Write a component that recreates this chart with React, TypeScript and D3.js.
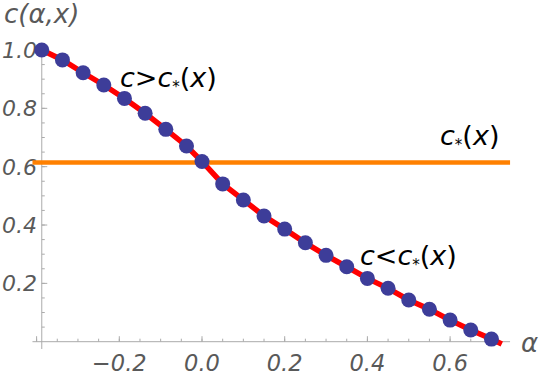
import React, { useEffect, useRef } from 'react'
import * as d3 from 'd3'

// data
const alphas = [-0.3875, -0.3375, -0.2875, -0.2375, -0.1875, -0.1375, -0.0875, -0.0375,
  0, 0.05, 0.1, 0.15, 0.2, 0.25, 0.3, 0.35, 0.4, 0.45, 0.5, 0.55, 0.6, 0.65, 0.7]
const cValues = [1.0, 0.966, 0.922, 0.88, 0.834, 0.783, 0.728, 0.671, 0.618, 0.541, 0.486,
  0.431, 0.386, 0.339, 0.296, 0.257, 0.217, 0.183, 0.143, 0.111, 0.074, 0.04, 0.009]
const curveEnd = [0.725, -0.008]
const cStar = 0.614
const cStarRange = [-0.41, 0.745]

const xMajorTicks = [-0.4, -0.2, 0, 0.2, 0.4, 0.6]
const xTickLabels = ['', '\u22120.2', '0.0', '0.2', '0.4', '0.6']
const yMajorTicks = [0.2, 0.4, 0.6, 0.8, 1.0]
const yTickLabels = ['0.2', '0.4', '0.6', '0.8', '1.0']

export default function App() {
  const ref = useRef<SVGSVGElement | null>(null)

  useEffect(() => {
    const width = 545, height = 382
    const svg = d3.select(ref.current).attr('width', width).attr('height', height)
    svg.selectAll('*').remove()

    const x = d3.scaleLinear().domain([-0.4, 0.7]).range([36.6, 491.45])
    const y = d3.scaleLinear().domain([0, 1]).range([341.7, 50])

    const axisColor = '#ababab'
    const labelColor = '#595959'
    const font = '"DejaVu Sans", sans-serif'
    const x0 = x(alphas[0])
    const y0 = y(0)

    // axes
    svg.append('line')
      .attr('x1', x(cStarRange[0])).attr('x2', x(cStarRange[1]))
      .attr('y1', y0).attr('y2', y0)
      .attr('stroke', axisColor).attr('stroke-width', 1)
    svg.append('line')
      .attr('x1', x0).attr('x2', x0)
      .attr('y1', y(-0.025)).attr('y2', y(1.01))
      .attr('stroke', axisColor).attr('stroke-width', 1)

    // x ticks
    const xMinor = d3.range(-0.4, 0.7001, 0.05)
    svg.append('g').selectAll('line').data(xMinor).join('line')
      .attr('x1', d => x(d)).attr('x2', d => x(d))
      .attr('y1', y0).attr('y2', y0 - 3)
      .attr('stroke', axisColor)
    svg.append('g').selectAll('line').data(xMajorTicks).join('line')
      .attr('x1', d => x(d)).attr('x2', d => x(d))
      .attr('y1', y0).attr('y2', y0 - 5.5)
      .attr('stroke', axisColor)
    svg.append('g').selectAll('text').data(xMajorTicks).join('text')
      .attr('x', d => x(d)).attr('y', 371)
      .attr('text-anchor', 'middle')
      .attr('font-family', font).attr('font-style', 'italic').attr('font-size', 22.5)
      .attr('fill', labelColor)
      .text((d, i) => xTickLabels[i])

    // y ticks
    const yMinor = d3.range(0.05, 1.0001, 0.05)
    svg.append('g').selectAll('line').data(yMinor).join('line')
      .attr('x1', x0).attr('x2', x0 + 3)
      .attr('y1', d => y(d)).attr('y2', d => y(d))
      .attr('stroke', axisColor)
    svg.append('g').selectAll('line').data(yMajorTicks).join('line')
      .attr('x1', x0).attr('x2', x0 + 5.5)
      .attr('y1', d => y(d)).attr('y2', d => y(d))
      .attr('stroke', axisColor)
    svg.append('g').selectAll('text').data(yMajorTicks).join('text')
      .attr('x', 37).attr('y', d => y(d) + 8)
      .attr('text-anchor', 'end')
      .attr('font-family', font).attr('font-style', 'italic').attr('font-size', 22)
      .attr('fill', labelColor)
      .text((d, i) => yTickLabels[i])

    // axis labels
    svg.append('text').attr('x', 4).attr('y', 23)
      .attr('font-family', font).attr('font-size', 26).attr('fill', labelColor)
      .attr('font-style', 'italic')
      .text('c(\u03b1,x)')
    svg.append('text').attr('x', 521).attr('y', 352)
      .attr('font-family', font).attr('font-size', 26).attr('fill', labelColor)
      .attr('font-style', 'italic')
      .text('\u03b1')

    // threshold line
    svg.append('line')
      .attr('x1', x(cStarRange[0])).attr('x2', x(cStarRange[1]))
      .attr('y1', y(cStar)).attr('y2', y(cStar))
      .attr('stroke', '#ff8000').attr('stroke-width', 4.5)

    // curve
    const pts = alphas.map((a, i) => [a, cValues[i]])
    pts.push(curveEnd)
    const line = d3.line<number[]>().x(d => x(d[0])).y(d => y(d[1]))
    svg.append('path').datum(pts)
      .attr('d', line)
      .attr('fill', 'none').attr('stroke', '#ff0000').attr('stroke-width', 5.5)

    svg.append('g').selectAll('circle').data(alphas).join('circle')
      .attr('cx', d => x(d)).attr('cy', (d, i) => y(cValues[i]))
      .attr('r', 7.5)
      .attr('fill', '#3d3d99')

    // region labels
    function label(tx: number, ty: number, pre: string) {
      const t = svg.append('text').attr('x', tx).attr('y', ty)
        .attr('font-family', font).attr('font-size', 27).attr('fill', '#000')
      t.append('tspan').attr('font-style', 'italic').text(pre)
      t.append('tspan').attr('font-size', 15).attr('dy', 5).text('*')
      t.append('tspan').attr('dy', -5).text('(')
      t.append('tspan').attr('font-style', 'italic').text('x')
      t.append('tspan').text(')')
    }
    label(120, 87, 'c>c')
    label(440, 145, 'c')
    label(360, 265, 'c<c')
  }, [])

  return (
    <svg ref={ref} style={{ position: 'absolute', left: 0, top: 0, background: '#fff' }}></svg>
  )
}
